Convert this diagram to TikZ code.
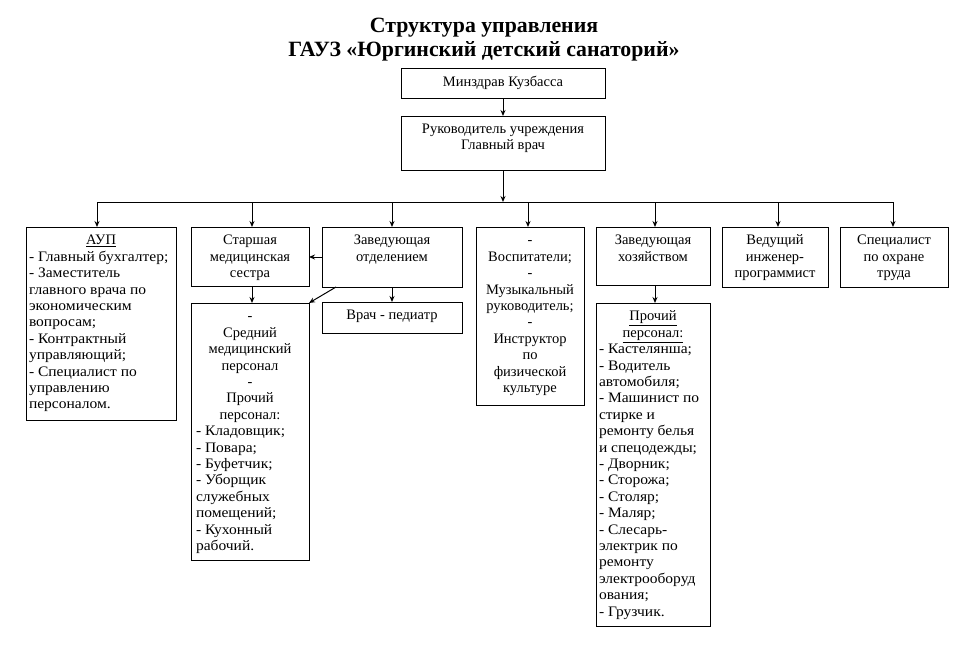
\documentclass[tikz,border=0pt]{standalone}
\usepackage{fontspec}
\setmainfont{Liberation Serif}
\newfontfamily\listfont[FakeStretch=1.07]{Liberation Serif}
\usetikzlibrary{arrows.meta}
\begin{document}
\begin{tikzpicture}[x=1pt,y=-1pt,
  box/.style={draw, line width=1pt, anchor=north west, inner sep=0pt, outer sep=0pt},
  txt/.style={inner sep=0pt, outer sep=0pt, font=\fontsize{14.5}{16.4}\selectfont},
  ctxt/.style={txt, align=center, anchor=north},
  ltxt/.style={inner sep=0pt, outer sep=0pt, font=\listfont\fontsize{14.5}{16.4}\selectfont, align=left, anchor=north west},
  arr/.style={line width=1pt, -{Stealth[length=6pt,width=5pt]}},
  ln/.style={line width=1pt}]
\useasboundingbox (0,0) rectangle (969,646);

% title
\node[inner sep=0pt, anchor=north, align=center, font=\fontsize{21.8}{24}\selectfont\bfseries] (title) at (484,15)
  {\strut Структура управления\\ГАУЗ «Юргинский детский санаторий»};

% boxes
\node[box, minimum width=204, minimum height=30] (minz) at (401,68) {};
\node[box, minimum width=204, minimum height=54] (ruk) at (401,116) {};
\node[box, minimum width=150, minimum height=193] (aup) at (26,227) {};
\node[box, minimum width=118, minimum height=59] (star) at (191,227) {};
\node[box, minimum width=140, minimum height=60] (zavotd) at (322,227) {};
\node[box, minimum width=118, minimum height=257] (sred) at (191,303) {};
\node[box, minimum width=140, minimum height=31] (vrach) at (322,302) {};
\node[box, minimum width=108, minimum height=178] (vosp) at (476,227) {};
\node[box, minimum width=114, minimum height=58] (zavhoz) at (596,227) {};
\node[box, minimum width=114, minimum height=323] (proch) at (596,303) {};
\node[box, minimum width=106, minimum height=60] (ved) at (722,227) {};
\node[box, minimum width=108, minimum height=60] (spec) at (840,227) {};

% texts
\node[ctxt] (minzT) at ([yshift=-7pt]minz.north) {\strut Минздрав Кузбасса};
\node[ctxt] (rukT) at ([yshift=-6pt]ruk.north) {\strut Руководитель учреждения\\Главный врач};
\node[ctxt] (aupH) at ([yshift=-6.5pt]aup.north) {\strut\underline{АУП}};
\node[ltxt] (aupT) at ([xshift=3pt,yshift=-22.9pt]aup.north west)
  {\strut - Главный бухгалтер;\\- Заместитель\\главного врача по\\экономическим\\вопросам;\\- Контрактный\\управляющий;\\- Специалист по\\управлению\\персоналом.};
\node[ctxt] (starT) at ([yshift=-6.5pt]star.north) {\strut Старшая\\медицинская\\сестра};
\node[ctxt] (zavotdT) at ([yshift=-6.5pt]zavotd.north) {\strut Заведующая\\отделением};
\node[ctxt] (vrachT) at ([yshift=-6.5pt]vrach.north) {\strut Врач - педиатр};
\node[ctxt] (sredH) at ([yshift=-6.5pt]sred.north) {\strut -\\Средний\\медицинский\\персонал\\-\\Прочий\\персонал:};
\node[ltxt] (sredT) at ([xshift=5pt,yshift=-121.3pt]sred.north west)
  {\strut - Кладовщик;\\- Повара;\\- Буфетчик;\\- Уборщик\\служебных\\помещений;\\- Кухонный\\рабочий.};
\node[ctxt] (vospT) at ([yshift=-6.5pt]vosp.north) {\strut -\\Воспитатели;\\-\\Музыкальный\\руководитель;\\-\\Инструктор\\по\\физической\\культуре};
\node[ctxt] (zavhozT) at ([yshift=-6.5pt]zavhoz.north) {\strut Заведующая\\хозяйством};
\node[ctxt] (prochH) at ([yshift=-6.5pt]proch.north) {\strut\underline{Прочий}\\\underline{персонал:}};
\node[ltxt] (prochT) at ([xshift=3pt,yshift=-39.3pt]proch.north west)
  {\strut - Кастелянша;\\- Водитель\\автомобиля;\\- Машинист по\\стирке и\\ремонту белья\\и спецодежды;\\- Дворник;\\- Сторожа;\\- Столяр;\\- Маляр;\\- Слесарь-\\электрик по\\ремонту\\электрооборуд\\ования;\\- Грузчик.};
\node[ctxt] (vedT) at ([yshift=-6.5pt]ved.north) {\strut Ведущий\\инженер-\\программист};
\node[ctxt] (specT) at ([yshift=-6.5pt]spec.north) {\strut Специалист\\по охране\\труда};

% connectors
\coordinate (busL) at (97,202);
\coordinate (busR) at (893,202);
\draw[arr] (minz.south) -- (ruk.north);
\draw[arr] (ruk.south) -- (ruk.south |- busL);
\draw[ln] (busL) -- (busR);
\draw[arr] (busL) -- (busL |- aup.north);
\draw[arr] ([xshift=2pt]star.north |- busL) -- ([xshift=2pt]star.north);
\draw[arr] (zavotd.north |- busL) -- (zavotd.north);
\draw[arr] ([xshift=-2pt]vosp.north |- busL) -- ([xshift=-2pt]vosp.north);
\draw[arr] ([xshift=2pt]zavhoz.north |- busL) -- ([xshift=2pt]zavhoz.north);
\draw[arr] ([xshift=3pt]ved.north |- busL) -- ([xshift=3pt]ved.north);
\draw[arr] (busR) -- (busR |- spec.north);
\draw[arr] ([xshift=2pt]star.south) -- ([xshift=2pt]sred.north);
\draw[arr] (zavotd.south) -- (vrach.north);
\draw[arr] ([xshift=2pt]zavhoz.south) -- ([xshift=2pt]proch.north);
\draw[arr] (zavotd.west) -- (zavotd.west -| star.east);
\draw[arr] ([xshift=14pt]zavotd.south west) -- (sred.north east);
\end{tikzpicture}
\end{document}
